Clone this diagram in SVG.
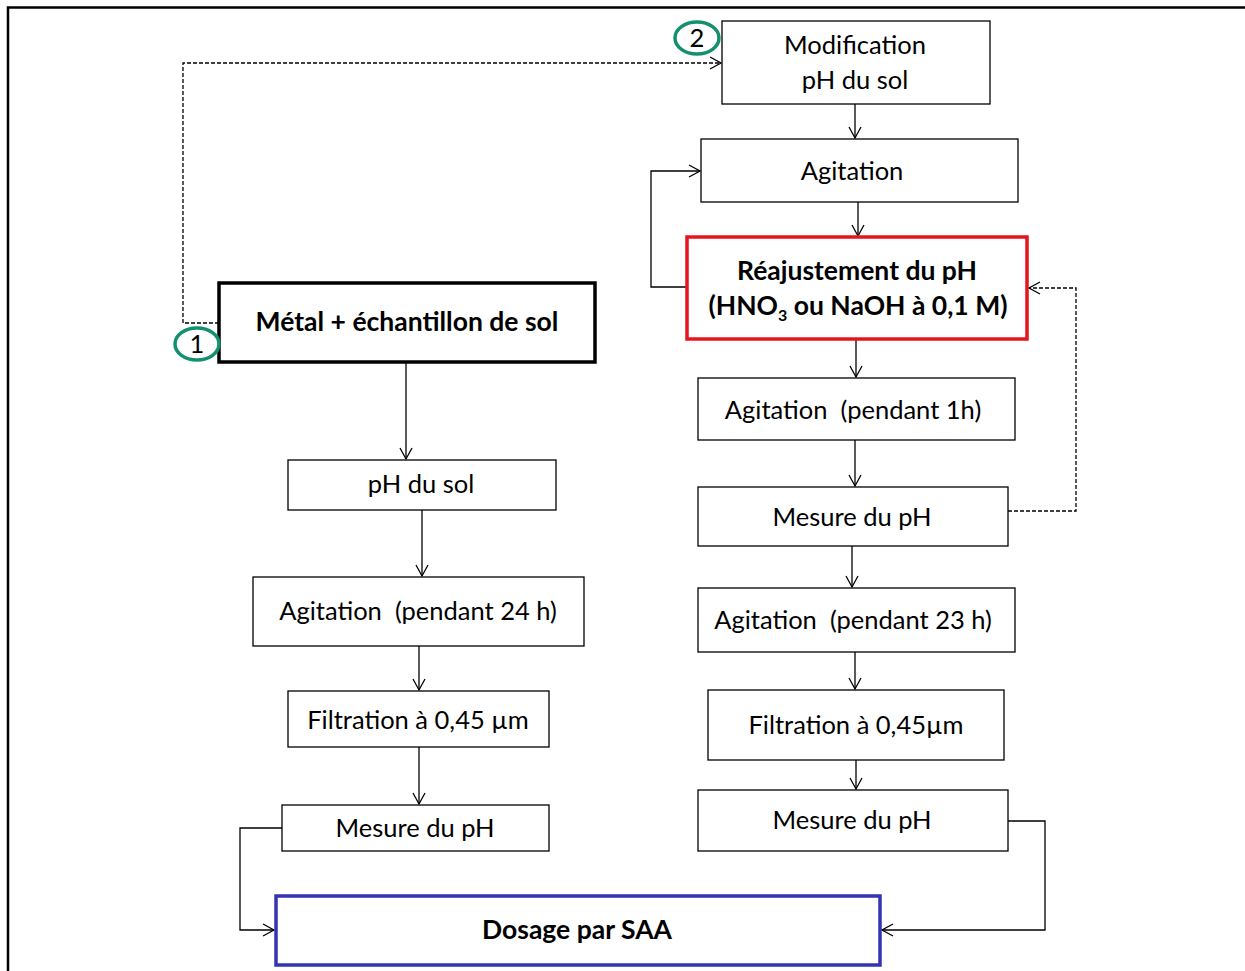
<svg xmlns="http://www.w3.org/2000/svg" width="1245" height="971" viewBox="0 0 1245 971">
<defs>
<marker id="arr" markerUnits="userSpaceOnUse" markerWidth="14" markerHeight="14" refX="12" refY="7" orient="auto">
<path d="M1,1 L12,7 L1,13" fill="none" stroke="#000" stroke-width="1.3"/>
</marker>
<style>
.box{fill:#fff;stroke:#000;stroke-width:1.3}
.t{font-family:Lato,"Open Sans",sans-serif;font-size:25.5px;fill:#000;text-anchor:middle;white-space:pre}
.b{font-weight:bold;font-size:26.5px}
.c{fill:none;stroke:#000;stroke-width:1.3}
.d{fill:none;stroke:#000;stroke-width:1.3;stroke-dasharray:4,2}
.num{fill:#fff;stroke:#14906f;stroke-width:3.5}
</style>
</defs>
<rect width="1245" height="971" fill="#fff"/>
<path d="M8,971 V7.5 H1245" fill="none" stroke="#000" stroke-width="2.5"/>

<g id="connectors">
<path class="d" d="M219,323 H183 V63 H721" marker-end="url(#arr)"/>
<path class="c" d="M855,104 V138" marker-end="url(#arr)"/>
<path class="c" d="M858,202 V236" marker-end="url(#arr)"/>
<path class="c" d="M687,287 H651 V171 H700" marker-end="url(#arr)"/>
<path class="c" d="M856,339 V377" marker-end="url(#arr)"/>
<path class="c" d="M855,440 V486" marker-end="url(#arr)"/>
<path class="d" d="M1008,511 H1076 V288 H1029" marker-end="url(#arr)"/>
<path class="c" d="M852,546 V587" marker-end="url(#arr)"/>
<path class="c" d="M855,652 V689" marker-end="url(#arr)"/>
<path class="c" d="M856,760 V789" marker-end="url(#arr)"/>
<path class="c" d="M1008,821 H1045 V930 H882" marker-end="url(#arr)"/>
<path class="c" d="M406,362 V459" marker-end="url(#arr)"/>
<path class="c" d="M422,510 V576" marker-end="url(#arr)"/>
<path class="c" d="M419,646 V690" marker-end="url(#arr)"/>
<path class="c" d="M419,747 V804" marker-end="url(#arr)"/>
<path class="c" d="M282,828 H240 V930 H274" marker-end="url(#arr)"/>
</g>

<g id="n-modif">
<rect class="box" x="722" y="21" width="268" height="83"/>
<text class="t" x="855" y="54">Modification</text>
<text class="t" x="855" y="89">pH du sol</text>
</g>
<g id="n-agit">
<rect class="box" x="701" y="139" width="317" height="63"/>
<text class="t" x="852" y="180">Agitation</text>
</g>
<g id="n-reaj">
<rect x="687" y="237" width="340" height="102" fill="#fff" stroke="#e8141b" stroke-width="3.5"/>
<text class="t b" x="857" y="280">Réajustement du pH</text>
<text class="t b" x="858" y="315">(HNO<tspan font-size="16" dy="6">3</tspan><tspan dy="-6"> ou NaOH à 0,1 M)</tspan></text>
</g>
<g id="n-agit1h">
<rect class="box" x="698" y="378" width="317" height="62"/>
<text class="t" x="853" y="419" xml:space="preserve">Agitation  (pendant 1h)</text>
</g>
<g id="n-mes1">
<rect class="box" x="698" y="487" width="310" height="59"/>
<text class="t" x="852" y="526">Mesure du pH</text>
</g>
<g id="n-agit23">
<rect class="box" x="698" y="588" width="317" height="64"/>
<text class="t" x="853" y="629" xml:space="preserve">Agitation  (pendant 23 h)</text>
</g>
<g id="n-filt-r">
<rect class="box" x="708" y="690" width="296" height="70"/>
<text class="t" x="856" y="734">Filtration à 0,45µm</text>
</g>
<g id="n-mes2">
<rect class="box" x="698" y="790" width="310" height="61"/>
<text class="t" x="852" y="829">Mesure du pH</text>
</g>
<g id="n-metal">
<rect x="219" y="283" width="376" height="79" fill="#fff" stroke="#000" stroke-width="3.5"/>
<text class="t b" x="407" y="331">Métal + échantillon de sol</text>
</g>
<g id="n-phsol">
<rect class="box" x="288" y="460" width="268" height="50"/>
<text class="t" x="421" y="493">pH du sol</text>
</g>
<g id="n-agit24">
<rect class="box" x="253" y="577" width="331" height="69"/>
<text class="t" x="418" y="620" xml:space="preserve">Agitation  (pendant 24 h)</text>
</g>
<g id="n-filt-l">
<rect class="box" x="288" y="691" width="261" height="56"/>
<text class="t" x="418" y="729">Filtration à 0,45 µm</text>
</g>
<g id="n-mes-l">
<rect class="box" x="282" y="805" width="267" height="46"/>
<text class="t" x="415" y="837">Mesure du pH</text>
</g>
<g id="n-dosage">
<rect x="276" y="896" width="604" height="69" fill="#fff" stroke="#3333b3" stroke-width="3.5"/>
<text class="t b" x="577" y="939">Dosage par SAA</text>
</g>
<g id="badge-1">
<ellipse class="num" cx="197" cy="344" rx="22" ry="16"/>
<text class="t" x="197" y="353">1</text>
</g>
<g id="badge-2">
<ellipse class="num" cx="697" cy="38" rx="22" ry="16"/>
<text class="t" x="697" y="47">2</text>
</g>
</svg>
